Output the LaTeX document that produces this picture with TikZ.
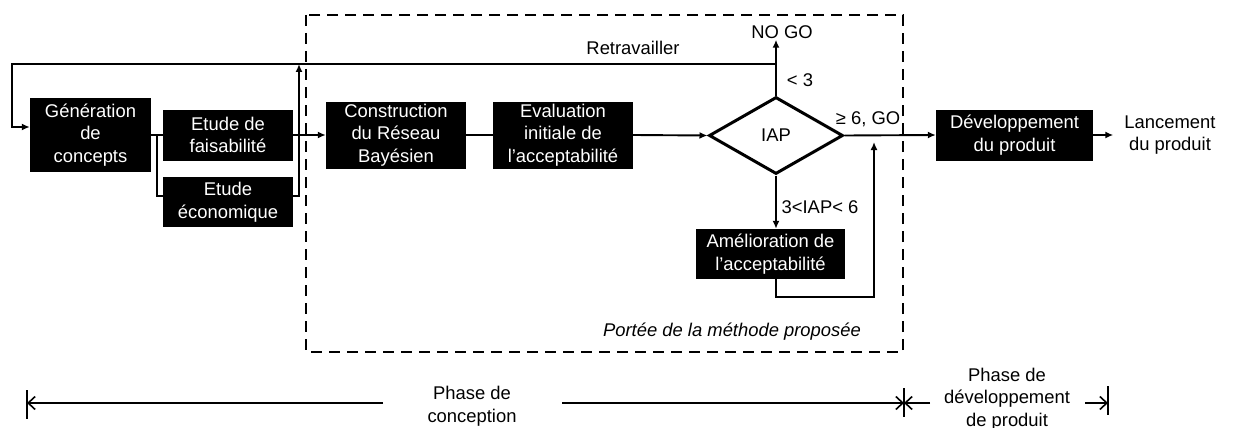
\documentclass[tikz,border=0pt]{standalone}
\usepackage{fontspec}
\setmainfont{Liberation Sans}
\usetikzlibrary{arrows.meta,shapes.geometric,calc}
\begin{document}
\begin{tikzpicture}[x=1pt,y=-1pt,
  every node/.style={font=\fontsize{18.4pt}{22.5pt}\selectfont, align=center},
  blk/.style={fill=black, text=white, inner sep=0pt},
  conn/.style={line width=1.9pt},
  arr/.style={conn, -{Latex[length=8pt,width=7pt]}},
  tl/.style={line width=1.6pt},
  tlarr/.style={tl, -{Straight Barb[length=7pt,width=13pt,line width=1.6pt]}},
  lbl/.style={inner sep=1pt}
]
\useasboundingbox (0,0) rectangle (1234,428);

% scope box
\draw[line width=2.8pt, dash pattern=on 11pt off 7pt] (306,15) rectangle (903,352);
\node[lbl, font=\fontsize{18.4pt}{22.5pt}\selectfont\itshape] (portee) at (732,332) {Portée de la méthode proposée};

% boxes
\node[blk, minimum width=121pt, minimum height=74pt] (gen) at (90.5,135) {Génération\\de\\concepts};
\node[blk, minimum width=130pt, minimum height=51pt] (fais) at (228,135) {Etude de\\faisabilité};
\node[blk, minimum width=130pt, minimum height=50pt] (eco) at (228,202) {Etude\\économique};
\node[blk, minimum width=140pt, minimum height=67pt] (constr) at (396,135) {Construction\\du Réseau\\Bayésien};
\node[blk, minimum width=140pt, minimum height=67pt] (eval) at (563,135) {Evaluation\\initiale de\\l’acceptabilité};
\node[diamond, draw, line width=3pt, aspect=1.74, inner sep=0pt, minimum width=134pt, minimum height=77pt] (dia) at (776,135.5) {IAP};
\node[blk, minimum width=149pt, minimum height=50pt] (imp) at (770.5,254) {Amélioration de\\l’acceptabilité};
\node[blk, minimum width=157pt, minimum height=51pt] (dev) at (1014.5,135) {Développement\\du produit};
\node[lbl] (launch) at (1170,135) {Lancement\\du produit};

% labels
\node[lbl] (retr) at (633,48) {Retravailler};
\node[lbl] (nogo) at (782,32) {NO GO};
\node[lbl] (lt3) at (800,80) {< 3};
\node[lbl] (ge6) at (868,119) {≥ 6, GO};
\node[lbl] (mid) at (820,207) {3<IAP< 6};

% coordinates
\coordinate (split) at (157,135);
\coordinate (ecoy) at (157,196);
\coordinate (upx) at (299,196);
\coordinate (upend) at (299,64);
\coordinate (retR) at (776,64);
\coordinate (retL) at (12,64);
\coordinate (genin) at (12,127);
\coordinate (loopend) at (874,142);

% connectors
\draw[conn] (gen.east) -- (split) -- (fais.west);
\draw[conn] (split) -- (ecoy) -- (eco.west |- ecoy);
\draw[arr] (fais.east) -- (constr.west);
\draw[arr] (eco.east |- upx) -- (upx) -- (upend);
\draw[arr] (retR) -- (retL) -- (genin) -- (gen.west |- genin);
\draw[conn] (constr.east) -- (eval.west);
\draw[arr] (eval.east) -- (dia.west);
\draw[arr] (dia.north) -- (dia.north |- nogo.south);
\draw[arr] (dia.east) -- (dev.west);
\draw[arr] (dia.south) -- (dia.south |- imp.north);
\draw[arr] (dia.south |- imp.south) -- ++(0,18) -| (loopend);
\draw[arr] (dev.east) -- ([xshift=-10pt]launch.west);

% timeline
\node[lbl] (ph1) at (472,406) {Phase de\\conception};
\node[lbl] (ph2) at (1007,399) {Phase de\\développement\\de produit};
\coordinate (b1) at (27,403);
\coordinate (b2) at (904,403);
\coordinate (b3) at (1108,403);
\draw[tl] (27,390) -- (27,419);
\draw[tl] (904,388) -- (904,417);
\draw[tl] (1108,386) -- (1108,415);
\draw[tlarr] (383,403) -- (b1);
\draw[tlarr] (562,403) -- (b2);
\draw[tlarr] (930,403) -- (b2);
\draw[tlarr] (1085,403) -- (b3);
\end{tikzpicture}
\end{document}
